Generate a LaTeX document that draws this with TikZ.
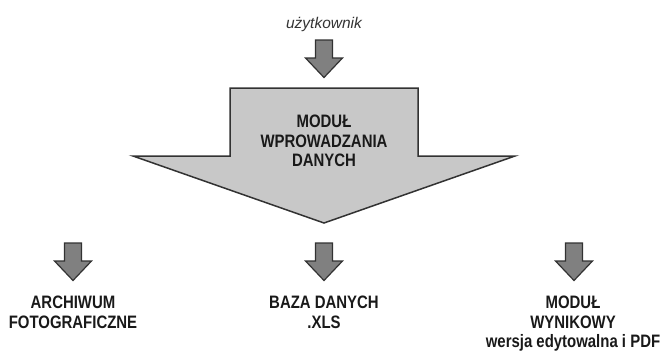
\documentclass[tikz,border=0pt]{standalone}
\usepackage{fontspec}
\setmainfont{Liberation Sans}[FakeStretch=0.83]
\newfontfamily\userfont{Liberation Sans}
\usepackage{tikz}
\usetikzlibrary{positioning}
\definecolor{arrowgray}{RGB}{128,128,128}
\definecolor{bodygray}{RGB}{200,200,200}
\definecolor{edgegray}{RGB}{50,50,50}
\tikzset{
  blockarrow/.style={draw=edgegray, fill=arrowgray, line width=1.2pt, line join=miter},
  bigarrow/.style={draw=edgegray, fill=bodygray, line width=1.5pt, line join=miter},
  lbl/.style={font=\fontsize{18}{19.5}\selectfont\bfseries, align=center,
              inner sep=0pt, anchor=north, text=black!90},
  userlbl/.style={font=\userfont\fontsize{15.5}{18}\selectfont\itshape, inner sep=0pt,
                  anchor=base, text=black!80},
  pics/downarrow/.style={code={
    \path[blockarrow] (-8.5,0) -- (8.5,0) -- (8.5,18) -- (18.5,18) -- (0,37.5)
                      -- (-18.5,18) -- (-8.5,18) -- cycle;
  }}
}

\begin{document}
\begin{tikzpicture}[x=1pt,y=-1pt]
\useasboundingbox (0,0) rectangle (665,351);
% input from the user
\node[userlbl] (user) at (324,28) {użytkownik};
\pic at (324,40) {downarrow};
% main module
\path[bigarrow] (230,88) -- (418,88) -- (418,156) -- (515,156) -- (324,223)
                -- (133,156) -- (230,156) -- cycle;
\node[lbl] (modul) at (324,115) {MODUŁ\\WPROWADZANIA\\DANYCH};
% outputs
\pic at (73,243) {downarrow};
\node[lbl] (archiwum) at (73,296) {ARCHIWUM\\FOTOGRAFICZNE};
\pic at (324,243) {downarrow};
\node[lbl] (baza) at (324,296) {BAZA DANYCH\\.XLS};
\pic at (574,243) {downarrow};
\node[lbl] (wyniki) at (573,296) {MODUŁ\\WYNIKOWY\\wersja edytowalna i PDF};
\end{tikzpicture}
\end{document}
